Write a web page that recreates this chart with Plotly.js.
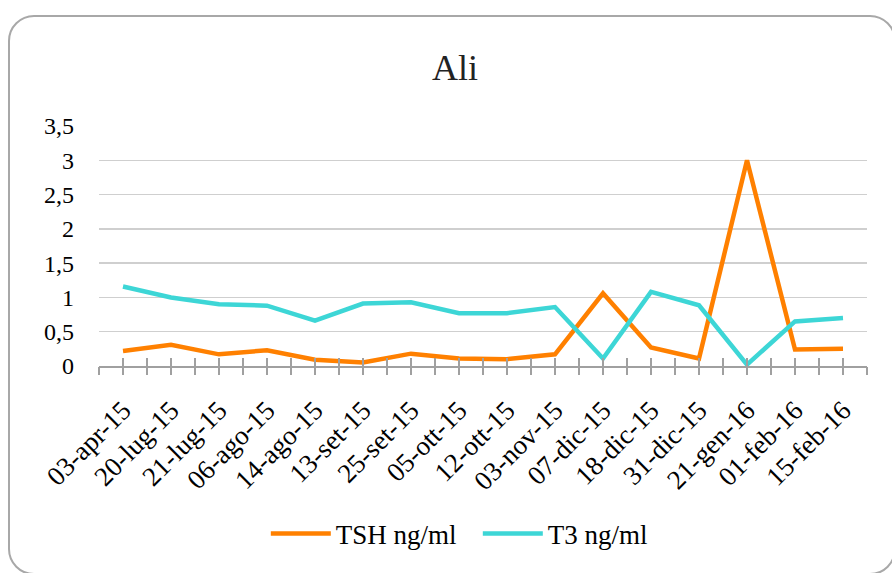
<!DOCTYPE html>
<html>
<head>
<meta charset="utf-8">
<script src="https://cdn.plot.ly/plotly-3.0.1.min.js"></script>
<style>
  html, body { margin: 0; padding: 0; width: 892px; height: 573px; overflow: hidden; background: #ffffff; }
  #chart { position: absolute; left: 0; top: 0; width: 892px; height: 573px; }
  #frame { position: absolute; left: 8px; top: 15px; width: 888px; height: 560px;
           border: 2px solid #a8a8a8; border-radius: 26px; pointer-events: none; box-sizing: border-box; }
</style>
</head>
<body>
<div id="chart"></div>
<div id="frame"></div>
<script>
const dates = ["03-apr-15","20-lug-15","21-lug-15","06-ago-15","14-ago-15","13-set-15","25-set-15","05-ott-15",
               "12-ott-15","03-nov-15","07-dic-15","18-dic-15","31-dic-15","21-gen-16","01-feb-16","15-feb-16"];
const tsh = [0.22, 0.31, 0.17, 0.23, 0.09, 0.05, 0.18, 0.11, 0.10, 0.17, 1.06, 0.27, 0.11, 3.0, 0.24, 0.25];
const t3  = [1.16, 1.00, 0.90, 0.88, 0.66, 0.91, 0.93, 0.77, 0.77, 0.86, 0.11, 1.08, 0.885, 0.02, 0.65, 0.70];
const seriesNames = ["TSH ng/ml", "T3 ng/ml"];
const yTicks = [0, 0.5, 1, 1.5, 2, 2.5, 3, 3.5];

const FONT = "'Liberation Serif', 'DejaVu Serif', serif";
const positions = dates.map((_, i) => i);

// hidden helper traces so the tick-only overlay axes get drawn
function helper(axis) {
  return { x: positions, y: t3, xaxis: axis, yaxis: "y", type: "scatter", mode: "lines",
           opacity: 0, hoverinfo: "skip", showlegend: false, line: { width: 0 } };
}

const traces = [
  helper("x2"), helper("x3"),
  { x: dates, y: tsh, name: seriesNames[0], type: "scatter", mode: "lines",
    line: { color: "#ff8000", width: 4.5 } },
  { x: dates, y: t3, name: seriesNames[1], type: "scatter", mode: "lines",
    line: { color: "#3dd6d6", width: 4.5 } }
];

const tickAxis = {
  type: "linear", overlaying: "x", anchor: "y", side: "bottom",
  range: [-0.5, dates.length - 0.5], tickmode: "linear", tick0: -0.5, dtick: 0.5,
  ticklen: 8, tickwidth: 1.8, tickcolor: "#a0a0a0",
  showticklabels: false, showgrid: false, zeroline: false, showline: false
};

const layout = {
  width: 892, height: 573,
  margin: { l: 99, r: 25, t: 126, b: 207, pad: 0 },
  paper_bgcolor: "rgba(0,0,0,0)", plot_bgcolor: "rgba(0,0,0,0)",
  separators: ",.",
  font: { family: FONT, size: 24, color: "#000000" },
  title: { text: "Ali", font: { family: FONT, size: 36, color: "#222222" },
           xref: "container", yref: "container", x: 0.51, xanchor: "center", y: 0.883, yanchor: "middle" },
  showlegend: true,
  legend: { orientation: "h", xref: "container", yref: "container", x: 0.298, xanchor: "left",
            y: 0.068, yanchor: "middle", font: { family: FONT, size: 27, color: "#000000" },
            itemwidth: 60, entrywidth: 137, tracegroupgap: 0, bgcolor: "rgba(0,0,0,0)" },
  xaxis: {
    type: "category", range: [-0.5, dates.length - 0.5],
    tickangle: -45, ticks: "", ticklabelstandoff: 16,
    tickfont: { family: FONT, size: 27, color: "#000000" },
    showgrid: false, zeroline: false,
    showline: true, linecolor: "#a0a0a0", linewidth: 1.8
  },
  xaxis2: Object.assign({}, tickAxis, { ticks: "outside" }),
  xaxis3: Object.assign({}, tickAxis, { ticks: "inside" }),
  yaxis: {
    range: [0, 3.5], tickvals: yTicks, ticks: "", ticklabelstandoff: 24,
    tickfont: { family: FONT, size: 24, color: "#000000" },
    showgrid: true, gridcolor: "#cfcfcf", gridwidth: 1.5,
    zeroline: false, showline: false
  }
};

Plotly.newPlot("chart", traces, layout, { displayModeBar: false, staticPlot: true });
</script>
</body>
</html>
